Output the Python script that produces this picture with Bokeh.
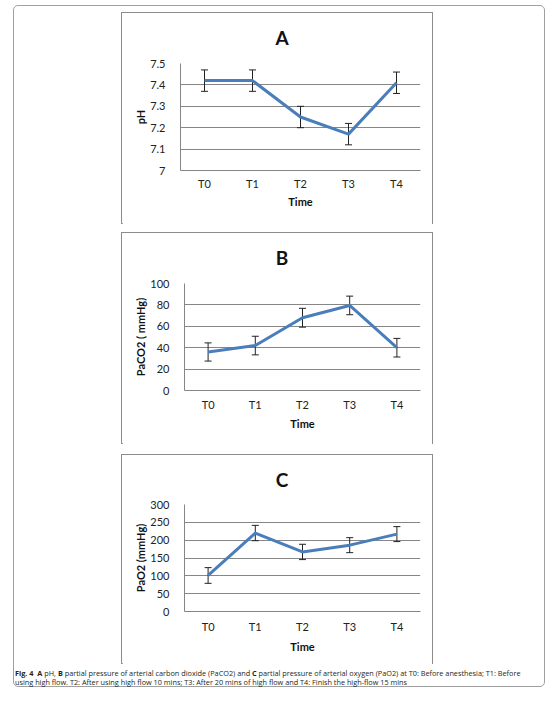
from bokeh.plotting import figure
from bokeh.models import ColumnDataSource, Whisker, TeeHead, FixedTicker, Div, Spacer, Range1d
from bokeh.layouts import column, row
from bokeh.embed import file_html
from bokeh.resources import INLINE

times = ["T0", "T1", "T2", "T3", "T4"]
ph = [7.42, 7.42, 7.25, 7.17, 7.41]
ph_err = [0.05, 0.05, 0.05, 0.05, 0.05]
paco2 = [36, 42, 68, 79.5, 40]
paco2_err = [8.5, 8.7, 8.8, 8.7, 8.7]
pao2 = [101, 220, 167, 186, 217]
pao2_err = [22, 21.5, 21.5, 21, 21]

ph_ticks = [7, 7.1, 7.2, 7.3, 7.4, 7.5]
ph_labels = ["7", "7.1", "7.2", "7.3", "7.4", "7.5"]
paco2_ticks = [0, 20, 40, 60, 80, 100]
paco2_labels = ["0", "20", "40", "60", "80", "100"]
pao2_ticks = [0, 50, 100, 150, 200, 250, 300]
pao2_labels = ["0", "50", "100", "150", "200", "250", "300"]

FONT = "Lato"
GRAY = "#868686"


def panel(letter, ylabel, vals, errs, ticks, labels, h, left, top, bottom, xshift):
    src = ColumnDataSource(dict(
        t=times, v=vals,
        lo=[a - b for a, b in zip(vals, errs)],
        hi=[a + b for a, b in zip(vals, errs)]))
    p = figure(x_range=times, y_range=Range1d(ticks[0], ticks[-1]),
               width=312, height=h - top + 6, output_backend="svg", toolbar_location=None,
               min_border_left=left, min_border_right=12,
               min_border_top=6, min_border_bottom=bottom)
    p.outline_line_color = None
    p.line("t", "v", source=src, line_color="#4a7ebb", line_width=3)
    head = dict(size=7, line_color="#222222", line_width=1)
    p.add_layout(Whisker(base="t", lower="lo", upper="hi", source=src,
                         line_color="#222222", line_width=1,
                         lower_head=TeeHead(**head), upper_head=TeeHead(**head)))
    p.xgrid.grid_line_color = None
    p.ygrid.grid_line_color = GRAY
    p.ygrid.ticker = FixedTicker(ticks=ticks)
    p.yaxis.ticker = FixedTicker(ticks=ticks)
    p.yaxis.major_label_overrides = dict(zip(ticks, labels))
    p.yaxis.axis_label = ylabel
    p.xaxis.axis_label = "Time"
    for ax in (p.xaxis, p.yaxis):
        ax.axis_line_color = GRAY
        ax.major_tick_out = 0
        ax.major_tick_in = 0
        ax.minor_tick_out = 0
        ax.minor_tick_in = 0
        ax.major_tick_line_color = None
        ax.minor_tick_line_color = None
        ax.major_label_text_font = FONT
        ax.major_label_text_font_size = "11px"
        ax.major_label_text_color = "#222222"
        ax.axis_label_text_font = FONT
        ax.axis_label_text_font_size = "11px"
        ax.axis_label_text_font_style = "bold"
        ax.axis_label_text_color = "#111111"
    p.yaxis.major_label_standoff = 15
    p.xaxis.major_label_standoff = 6 + xshift
    p.xaxis.axis_label_standoff = 2 + xshift
    p.yaxis.axis_label_standoff = 0
    # panel letter above the plot, centred on the panel box
    head_div = Div(text=letter, width=312, height=top - 16,
                   styles={"font-family": FONT, "font-size": "19px", "font-weight": "bold",
                           "color": "#111111", "text-align": "center",
                           "line-height": "30px", "padding-top": "5px"})
    return column(head_div, p, width=312, height=h,
                  styles={"border": "1px solid #8c8c8c"})


pA = panel("A", "pH", ph, ph_err, ph_ticks, ph_labels, 212, 58, 50, 55, 0)
pB = panel("B", "PaCO2 ( mmHg)", paco2, paco2_err, paco2_ticks, paco2_labels, 212, 62, 50, 55, 1)
pC = panel("C", "PaO2 (mmHg)", pao2, pao2_err, pao2_ticks, pao2_labels, 210, 62, 49, 54, 2)

caption = Div(
    text="<b>Fig. 4</b>&nbsp; <b>A</b> pH, <b>B</b> partial pressure of arterial carbon dioxide (PaCO2) "
         "and <b>C</b> partial pressure of arterial oxygen (PaO2) at T0: Before anesthesia; T1: Before<br>"
         "using high flow. T2: After using high flow 10 mins; T3: After 20 mins of high flow and "
         "T4: Finish the high-flow 15 mins",
    width=528, height=19,
    styles={"font-family": "Open Sans", "font-size": "7.3px", "line-height": "9px",
            "color": "#231f20", "margin-left": "1px"})

outer = column(
    Spacer(height=6),
    row(Spacer(width=107), pA),
    Spacer(height=8),
    row(Spacer(width=107), pB),
    Spacer(height=10),
    row(Spacer(width=107), pC),
    caption,
    width=532, height=682,
    styles={"border": "1px solid #a0a0a0", "border-radius": "5px"})

layout = column(Spacer(height=5), row(Spacer(width=13), outer))

open("out.html", "w").write(file_html(layout, INLINE))
